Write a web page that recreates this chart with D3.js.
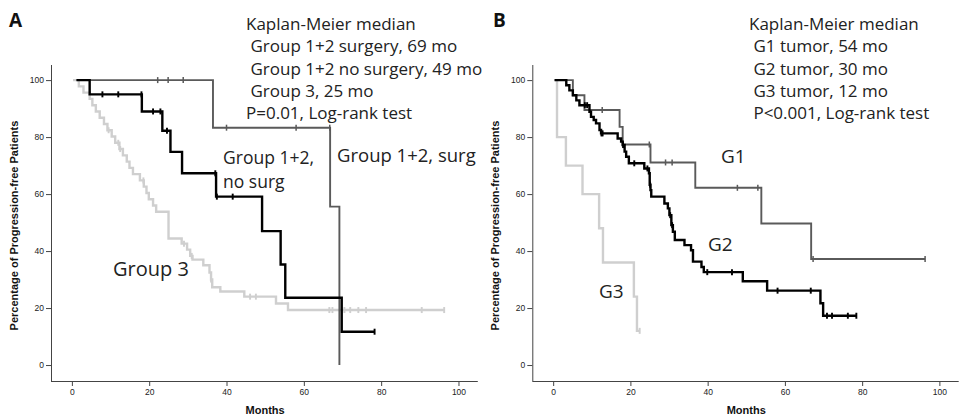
<!DOCTYPE html>
<html>
<head>
<meta charset="utf-8">
<script src="https://cdn.jsdelivr.net/npm/d3@7"></script>
<style>
  html, body { margin: 0; padding: 0; background: #fff; }
  svg { display: block; }
  .tick text { font-family: "Liberation Sans", Arial, sans-serif; font-size: 8.5px; fill: #222; }
  .note { font-family: "Open Sans", sans-serif; fill: #222; }
  .axis-title { font-family: "Liberation Sans", Arial, sans-serif; font-weight: bold; font-size: 11px; fill: #111; }
</style>
</head>
<body>
<svg id="chart" width="959" height="416"></svg>
<script>
// ---- Panel A: surgery groups (months, % progression-free after each event) ----
const surgStart = 1.2, surgEnd = 69.2;
const surgSteps = [[36.5, 83.3], [66.8, 55.6], [69.2, 0]];
const surgCensor = [22.2, 24.9, 28.8, 40.0, 58.0, 66.7];

const noSurgStart = 1.2, noSurgEnd = 78.3;
const noSurgSteps = [[4.6, 95.0], [18.1, 89.0], [23.4, 82.2], [25.5, 74.8], [28.5, 67.3],
  [37.3, 59.1], [49.2, 47.0], [54.0, 35.3], [55.2, 23.6], [69.8, 11.7]];
const noSurgCensor = [7.9, 12.0, 18.0, 21.0, 22.9, 24.6, 37.1, 37.5, 41.6, 78.3];

const grp3Start = 0.3, grp3End = 96.3;
const grp3Steps = [[1.8, 97.8], [3.0, 95.6], [4.6, 93.4], [5.3, 91.2], [6.2, 89.0], [7.2, 86.8],
  [8.3, 84.6], [9.2, 82.4], [10.3, 80.2], [11.2, 78.0], [12.3, 75.8], [13.2, 73.6], [14.2, 71.4],
  [14.9, 69.2], [15.8, 67.0], [17.6, 64.8], [18.6, 62.6], [19.3, 60.4], [19.9, 58.2], [21.0, 56.0],
  [21.8, 53.8], [25.0, 44.4], [28.4, 42.6], [29.8, 40.5], [30.6, 38.3], [31.2, 37.0], [34.0, 35.0],
  [35.6, 32.5], [36.0, 30.0], [36.3, 27.3], [38.4, 25.8], [44.6, 24.0], [52.8, 21.6], [55.9, 19.3]];
const grp3Censor = [9.5, 12.0, 12.5, 18.5, 29.0, 31.0, 36.0, 46.1, 47.6, 66.6, 67.4, 70.5, 72.0, 74.1, 76.1, 90.5, 96.3];

// ---- Panel B: tumour grade ----
const g1Start = 0.4, g1End = 96.3;
const g1Steps = [[5.1, 94.7], [8.1, 89.5], [17.2, 83.6], [18.0, 77.4], [25.2, 71.1], [36.8, 62.2],
  [53.9, 49.7], [66.8, 37.2]];
const g1Censor = [12.7, 24.9, 29.1, 30.8, 47.7, 53.0, 67.3, 96.3];

const g2Start = 0.4, g2End = 78.5;
const g2Steps = [[3.4, 98.2], [4.2, 96.4], [5.1, 94.7], [6.0, 92.9], [6.8, 91.2], [9.4, 88.9],
  [9.8, 87.1], [10.5, 86.0], [11.1, 84.8], [12.0, 82.5], [12.4, 81.3], [16.7, 79.5], [17.6, 78.4],
  [18.0, 77.2], [18.5, 74.9], [18.9, 73.1], [19.6, 70.8], [23.6, 69.0], [24.8, 67.3], [25.0, 63.3],
  [25.2, 61.4], [25.4, 59.1], [28.8, 56.7], [29.7, 55.0], [30.1, 52.6], [30.6, 49.1], [31.0, 46.8],
  [31.5, 43.9], [34.0, 42.1], [35.7, 40.3], [36.2, 36.3], [38.4, 34.4], [39.0, 32.6], [49.1, 29.4],
  [55.4, 26.1], [69.2, 21.7], [69.9, 17.3]];
const g2Censor = [8.2, 8.8, 12.5, 12.8, 18.1, 21.0, 24.4, 25.1, 30.3, 30.8, 39.9, 46.3, 58.1, 66.7,
  70.9, 72.2, 76.3, 78.5];

const g3Start = 0.2, g3End = 22.4;
const g3Steps = [[1.0, 80], [3.3, 70], [7.6, 60], [11.9, 48], [12.9, 36], [20.9, 24], [21.7, 12]];
const g3Censor = [22.4];

// Axis ticks
const xTicks = [0, 20, 40, 60, 80, 100];
const yTicks = [0, 20, 40, 60, 80, 100];

const notesA = ["Kaplan-Meier median", " Group 1+2 surgery, 69 mo", " Group 1+2 no surgery, 49 mo",
  " Group 3, 25 mo", "P=0.01, Log-rank test"];
const notesB = ["Kaplan-Meier median", " G1 tumor, 54 mo", " G2 tumor, 30 mo", " G3 tumor, 12 mo",
  " P<0.001, Log-rank test"];

const svg = d3.select("#chart");
svg.append("rect").attr("width", 959).attr("height", 416).attr("fill", "#fff");

const yScale = d3.scaleLinear().domain([-5.6, 105.3]).range([381, 65]);

function survAt(steps, t) {
  let s = 100;
  for (const [tt, v] of steps) { if (tt <= t) s = v; }
  return s;
}

function drawPanel(x0, x1, series, notes, noteX, letter, letterX) {
  const x = d3.scaleLinear().domain([-5.4, 105]).range([x0, x1]);
  const g = svg.append("g");

  // axes
  const xAxis = d3.axisBottom(x).tickValues(xTicks).tickSize(5).tickPadding(3);
  const gx = g.append("g").attr("transform", `translate(0,${yScale.range()[0]})`).call(xAxis);
  const yAxis = d3.axisLeft(yScale).tickValues(yTicks).tickSize(5).tickPadding(2);
  const gy = g.append("g").attr("transform", `translate(${x0},0)`).call(yAxis);
  [gx, gy].forEach(a => {
    a.select(".domain").attr("stroke", "#444").attr("stroke-width", 1);
    a.selectAll(".tick line").attr("stroke", "#444");
  });
  // plain axis lines without end caps
  gx.select(".domain").attr("d", `M${x0},0.5H${x1}`);
  gy.select(".domain").attr("d", `M0.5,${yScale.range()[0]}V${yScale.range()[1]}`);

  g.append("text").attr("class", "axis-title")
    .attr("x", x(50)).attr("y", 414)
    .attr("text-anchor", "middle").text("Months");
  g.append("text").attr("class", "axis-title")
    .attr("transform", `translate(${x0 - 33},${(yScale(100) + yScale(0)) / 2 + 3}) rotate(-90)`)
    .attr("text-anchor", "middle").text("Percentage of Progression-free Patients");

  // survival curves with censor ticks
  const line = d3.line().x(d => x(d[0])).y(d => yScale(d[1])).curve(d3.curveStepAfter);
  series.forEach(s => {
    const last = s.steps[s.steps.length - 1][1];
    const pts = [[s.start, 100], ...s.steps];
    if (s.end > s.steps[s.steps.length - 1][0]) pts.push([s.end, last]);
    g.append("path").attr("d", line(pts)).attr("fill", "none")
      .attr("stroke", s.color).attr("stroke-width", s.width).attr("stroke-linejoin", "miter");
    g.append("g").selectAll("line").data(s.censor).join("line")
      .attr("x1", d => x(d)).attr("x2", d => x(d))
      .attr("y1", d => yScale(survAt(s.steps, d)) - 3)
      .attr("y2", d => yScale(survAt(s.steps, d)) + 3)
      .attr("stroke", s.color).attr("stroke-width", s.width * 0.8);
  });

  // median summary block
  const nb = g.append("text").attr("class", "note").attr("font-size", 17);
  notes.forEach((t, i) => {
    nb.append("tspan").attr("x", noteX).attr("y", 30 + i * 22.3).attr("xml:space", "preserve").text(t);
  });

  g.append("text").attr("x", letterX).attr("y", 27)
    .attr("font-family", "Open Sans, sans-serif").attr("font-weight", "bold")
    .attr("font-size", 19).attr("fill", "#111").text(letter);
  return x;
}

drawPanel(51, 477.8, [
  { steps: grp3Steps, start: grp3Start, end: grp3End, censor: grp3Censor, color: "#cfcfcf", width: 2.4 },
  { steps: surgSteps, start: surgStart, end: surgEnd, censor: surgCensor, color: "#5a5a5a", width: 1.9 },
  { steps: noSurgSteps, start: noSurgStart, end: noSurgEnd, censor: noSurgCensor, color: "#000", width: 2.4 }
], notesA, 246, "A", 9);

drawPanel(532.3, 958.7, [
  { steps: g3Steps, start: g3Start, end: g3End, censor: g3Censor, color: "#cfcfcf", width: 2.4 },
  { steps: g1Steps, start: g1Start, end: g1End, censor: g1Censor, color: "#5a5a5a", width: 1.9 },
  { steps: g2Steps, start: g2Start, end: g2End, censor: g2Censor, color: "#000", width: 2.4 }
], notesB, 749, "B", 493);

// curve labels (multi-line labels share one text element)
const lab = (x, y, size, lines, dy = 20) => {
  const t = svg.append("text").attr("class", "note").attr("font-size", size);
  lines.forEach((s, i) => t.append("tspan").attr("x", x).attr("y", y + i * dy).text(s));
};
lab(223, 164, 17.5, ["Group 1+2,", "no surg"], 23.5);
lab(337, 162, 18.5, ["Group 1+2, surg"]);
lab(113, 276, 20, ["Group 3"]);
lab(721, 163, 19, ["G1"]);
lab(708, 251, 19, ["G2"]);
lab(599, 298, 19, ["G3"]);
</script>
</body>
</html>
